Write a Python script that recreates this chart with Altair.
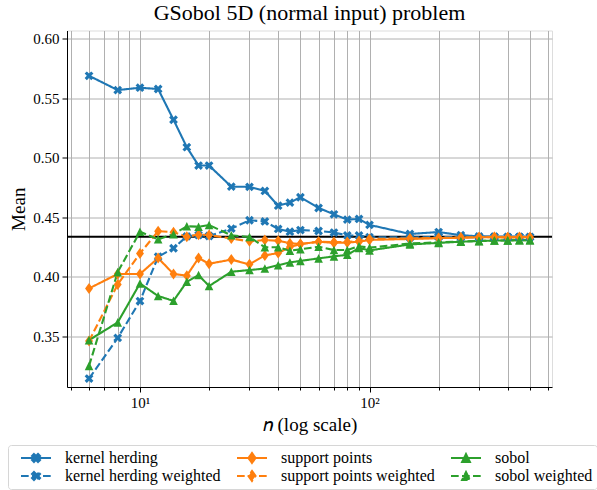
import altair as alt
import pandas as pd

# ---------------- data ----------------
n_values = [6, 8, 10, 12, 14, 16, 18, 20, 25, 30, 35, 40, 45, 50, 60, 70, 80, 90,
            100, 150, 200, 250, 300, 350, 400, 450, 500]

kernel_herding = [0.5687, 0.5567, 0.5587, 0.5576, 0.5318, 0.5088, 0.4934, 0.4934, 0.4757,
                  0.4755, 0.4721, 0.4597, 0.4623, 0.4668, 0.4578, 0.4525, 0.4480, 0.4486,
                  0.4436, 0.4360, 0.4376, 0.4350, 0.4340, 0.4338, 0.4335, 0.4336, 0.4335]
kernel_herding_weighted = [0.3147, 0.3488, 0.3797, 0.4169, 0.4240, 0.4340, 0.4351, 0.4343, 0.4405,
                           0.4475, 0.4465, 0.4402, 0.4379, 0.4393, 0.4385, 0.4372, 0.4348, 0.4347,
                           0.4333, 0.4330, 0.4335, 0.4333, 0.4334, 0.4335, 0.4334, 0.4335, 0.4334]
support_points = [0.3903, 0.4024, 0.4024, 0.4158, 0.4024, 0.4010, 0.4158, 0.4110, 0.4145,
                  0.4105, 0.4180, 0.4200, 0.4250, 0.4275, 0.4295, 0.4285, 0.4288, 0.4295,
                  0.4310, 0.4318, 0.4325, 0.4328, 0.4332, 0.4334, 0.4330, 0.4333, 0.4331]
support_points_weighted = [0.3461, 0.3937, 0.4197, 0.4383, 0.4375, 0.4337, 0.4354, 0.4351, 0.4322,
                           0.4298, 0.4309, 0.4303, 0.4282, 0.4275, 0.4295, 0.4292, 0.4292, 0.4300,
                           0.4318, 0.4322, 0.4326, 0.4330, 0.4333, 0.4334, 0.4332, 0.4334, 0.4332]
sobol = [0.3469, 0.3618, 0.3945, 0.3839, 0.3799, 0.3959, 0.4015, 0.3923, 0.4043,
         0.4057, 0.4070, 0.4098, 0.4121, 0.4134, 0.4155, 0.4172, 0.4185, 0.4242,
         0.4222, 0.4272, 0.4285, 0.4295, 0.4300, 0.4305, 0.4305, 0.4308, 0.4308]
sobol_weighted = [0.3253, 0.4040, 0.4379, 0.4315, 0.4358, 0.4424, 0.4421, 0.4435, 0.4349,
                  0.4335, 0.4248, 0.4248, 0.4219, 0.4231, 0.4253, 0.4225, 0.4225, 0.4257,
                  0.4245, 0.4280, 0.4290, 0.4298, 0.4302, 0.4305, 0.4306, 0.4308, 0.4308]

reference_mean = [0.4337]

# legend / series order (column-major: 2 rows x 3 columns)
series_labels = ["kernel herding", "kernel herding weighted", "support points",
                 "support points weighted", "sobol", "sobol weighted"]
series_values = [kernel_herding, kernel_herding_weighted, support_points,
                 support_points_weighted, sobol, sobol_weighted]

x_tick_values = [5, 6, 7, 8, 9, 10, 20, 30, 40, 50, 60, 70, 80, 90, 100,
                 200, 300, 400, 500, 600]
y_tick_values = [0.35, 0.40, 0.45, 0.50, 0.55, 0.60]

# ---------------- styles ----------------
FONT = "Liberation Serif"
BLUE, ORANGE, GREEN = "#1f77b4", "#ff7f0e", "#2ca02c"
colors = [BLUE, BLUE, ORANGE, ORANGE, GREEN, GREEN]
dash = [7.7, 3.3]
dashes = [[1, 0], dash, [1, 0], dash, [1, 0], dash]

X_PATH = ("M0.80,-0.40L0.40,0L0.80,0.40L0.40,0.80L0,0.40L-0.40,0.80L-0.80,0.40L-0.40,0"
          "L-0.80,-0.40L-0.40,-0.80L0,-0.40L0.40,-0.80Z")
D_PATH = "M0,-1L0.72,0L0,1L-0.72,0Z"
T_PATH = "M0,-0.78L0.78,0.78L-0.78,0.78Z"

# legend symbols: short line with the marker in its middle
X_LEG = ("M-1,0H1M0.27,-0.135L0.135,0L0.27,0.135L0.135,0.27L0,0.135L-0.135,0.27"
         "L-0.27,0.135L-0.135,0L-0.27,-0.135L-0.135,-0.27L0,-0.135L0.135,-0.27Z")
D_LEG = "M-1,0H1M0,-0.33L0.24,0L0,0.33L-0.24,0Z"
T_LEG = "M-1,0H1M0,-0.26L0.26,0.26L-0.26,0.26Z"
legend_shapes = [X_LEG, X_LEG, D_LEG, D_LEG, T_LEG, T_LEG]

rows = []
for name, vals in zip(series_labels, series_values):
    for n, v in zip(n_values, vals):
        rows.append({"series": name, "n": n, "mean": v})
df = pd.DataFrame(rows)
ref_df = pd.DataFrame({"mean": reference_mean})
legend_df = pd.DataFrame({"series": series_labels,
                          "n": [float("nan")] * len(series_labels),
                          "mean": [float("nan")] * len(series_labels)})

xscale = alt.Scale(type="log", domain=[4.81, 623.7], nice=False)
yscale = alt.Scale(domain=[0.3076, 0.6067], nice=False, zero=False)
color_scale = alt.Scale(domain=series_labels, range=colors)
fill_scale = alt.Scale(domain=series_labels, range=colors)
dash_scale = alt.Scale(domain=series_labels, range=dashes)
shape_scale = alt.Scale(domain=series_labels, range=legend_shapes)

xaxis = alt.Axis(
    values=x_tick_values,
    labelExpr="datum.value == 10 ? '10¹' : (datum.value == 100 ? '10²' : '')",
    grid=True, gridColor="#b0b0b0", gridWidth=1,
    tickColor="black", tickWidth=1,
    tickSize={"condition": {"test": "datum.value == 10 || datum.value == 100", "value": 5},
              "value": 3},
    domainColor="black", domainWidth=1,
    labelFont=FONT, labelFontSize=15, labelColor="black", labelPadding=3,
    labelOverlap=False, labelFlush=False,
    title="𝑛 (log scale)", titleFont=FONT, titleFontSize=19, titleFontWeight="normal",
    titleColor="black", titlePadding=5,
)
yaxis = alt.Axis(
    values=y_tick_values, format=".2f",
    grid=True, gridColor="#b0b0b0", gridWidth=1,
    tickColor="black", tickWidth=1, tickSize=5,
    domainColor="black", domainWidth=1,
    labelFont=FONT, labelFontSize=15, labelColor="black", labelPadding=3,
    title="Mean", titleFont=FONT, titleFontSize=19, titleFontWeight="normal",
    titleColor="black", titlePadding=4,
)

legend = alt.Legend(
    title=None, orient="none", legendX=-59, legendY=414.5, columns=3,
    symbolSize=900, symbolStrokeWidth=2, symbolOffset=8,
    labelOffset=13, labelFont=FONT, labelFontSize=16, labelColor="black", labelLimit=400,
    columnPadding=7, rowPadding=0, clipHeight=18, padding=4,
    strokeColor="#d6d6d6", cornerRadius=3,
)

X = alt.X("n:Q", scale=xscale, axis=xaxis)
Y = alt.Y("mean:Q", scale=yscale, axis=yaxis)
COLOR = alt.Color("series:N", scale=color_scale, legend=legend)
DASH = alt.StrokeDash("series:N", scale=dash_scale, legend=legend)

# legend-only layer (its rows carry no coordinates, so no mark is drawn)
legend_layer = alt.Chart(legend_df).mark_point(filled=False, opacity=1, strokeWidth=2).encode(
    x=X, y=Y,
    color=COLOR,
    fill=alt.Fill("series:N", scale=fill_scale, legend=legend),
    shape=alt.Shape("series:N", scale=shape_scale, legend=legend),
    strokeDash=DASH,
)

rule = alt.Chart(ref_df).mark_rule(color="black", strokeWidth=2).encode(y=Y)

lines = alt.Chart(df).mark_line(strokeWidth=2.1, clip=True).encode(
    x=X, y=Y, color=COLOR, strokeDash=DASH, order=alt.Order("n:Q"),
)


def marker_layer(path, members):
    return alt.Chart(df).transform_filter(
        alt.FieldOneOfPredicate(field="series", oneOf=members)
    ).mark_point(filled=True, opacity=1, size=121, shape=path, clip=True).encode(
        x=X, y=Y, color=COLOR,
    )


pts_kh = marker_layer(X_PATH, series_labels[0:2])
pts_sp = marker_layer(D_PATH, series_labels[2:4])
pts_sob = marker_layer(T_PATH, series_labels[4:6])

chart = alt.layer(legend_layer, rule, lines, pts_kh, pts_sp, pts_sob).properties(
    width=485, height=356.5,
    title=alt.TitleParams("GSobol 5D (normal input) problem", font=FONT, fontSize=22,
                          fontWeight="normal", color="black", anchor="middle", offset=6),
    autosize=alt.AutoSizeParams(type="none"),
    padding={"left": 67, "top": 30.5, "right": 45, "bottom": 103},
).configure_view(stroke="black", strokeWidth=1).configure(background="white")

chart.save("out.html", embed_options={"renderer": "svg", "actions": False})
